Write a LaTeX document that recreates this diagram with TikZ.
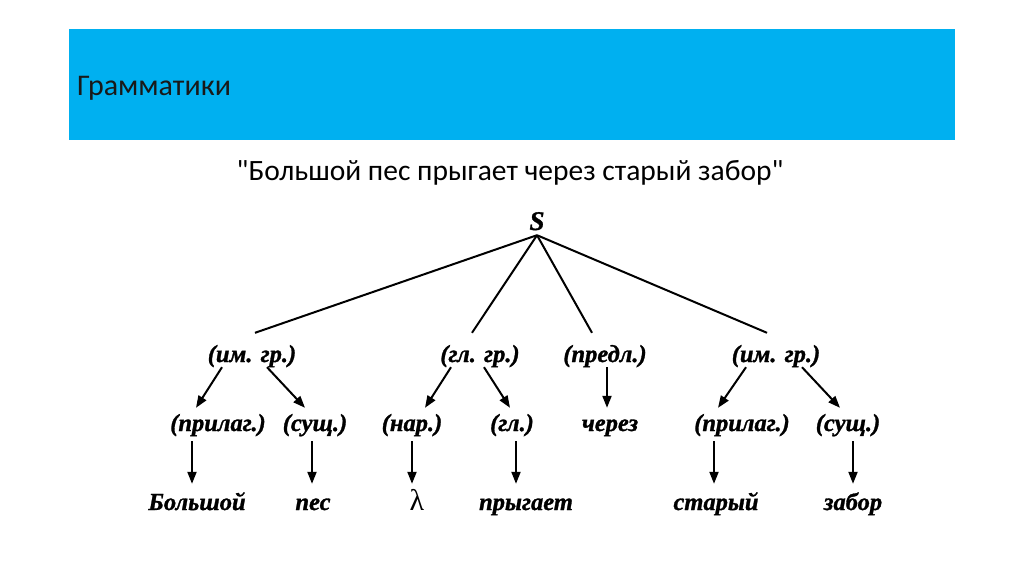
\documentclass[tikz,border=0pt]{standalone}
\usepackage{fontspec}
\usetikzlibrary{arrows.meta,calc}
\newfontfamily\hdrfont{Carlito}
\newfontfamily\treefont[FakeBold=1.2]{Liberation Serif}
\newfontfamily\lamfont{Liberation Serif}
\definecolor{hdrblue}{HTML}{00B0F0}
\begin{document}
\begin{tikzpicture}[x=1pt,y=-1pt,
  tn/.style={font=\treefont\bfseries\itshape\fontsize{24.5}{28}\selectfont, inner sep=0pt, text height=16pt, text depth=5pt, anchor=base},
  ln/.style={line width=2pt},
  ar/.style={line width=2pt, -{Triangle[length=12pt,width=9pt]}}]
\useasboundingbox (0,0) rectangle (1024,574);
\fill[white] (0,0) rectangle (1024,574);
\fill[hdrblue] (69,29) rectangle (955,140);
\node[anchor=base west, inner sep=0pt, font=\hdrfont\fontsize{30}{34}\selectfont, text=black!90] (title) at (77,95) {Грамматики};
\node[anchor=base, inner sep=0pt, font=\hdrfont\fontsize{29.5}{34}\selectfont] (sub) at (510,180) {"Большой пес прыгает через старый забор"};
% tree
\node[tn, font=\treefont\bfseries\itshape\fontsize{27}{30}\selectfont] (S) at (537,230) {S};
\node[tn] (ig1) at (252,362) {(им. гр.)};
\node[tn] (gg) at (480,362) {(гл. гр.)};
\node[tn] (pr) at (605,362) {(предл.)};
\node[tn] (ig2) at (776,362) {(им. гр.)};
\node[tn] (pa1) at (218,431) {(прилаг.)};
\node[tn] (su1) at (315,431) {(сущ.)};
\node[tn] (na) at (412,431) {(нар.)};
\node[tn] (gl) at (512,431) {(гл.)};
\node[tn] (ch) at (610,431) {через};
\node[tn] (pa2) at (742,431) {(прилаг.)};
\node[tn] (su2) at (848,431) {(сущ.)};
\node[tn] (w1) at (197,510) {Большой};
\node[tn] (w2) at (313,510) {пес};
\node[tn, font=\lamfont\fontsize{30}{32}\selectfont] (w3) at (417,510) {λ};
\node[tn] (w4) at (526,510) {прыгает};
\node[tn] (w5) at (716,510) {старый};
\node[tn] (w6) at (853,510) {забор};
% S lines
\draw[ln] (S.south) -- ($(ig1.north)+(3,-13)$);
\draw[ln] (S.south) -- ($(gg.north)+(-8,-13)$);
\draw[ln] (S.south) -- ($(pr.north)+(-13,-13)$);
\draw[ln] (S.south) -- ($(ig2.north)+(-9,-13)$);
% level 1 -> 2
\draw[ar] ($(ig1.south)+(-30,0)$) -- ($(pa1.north)+(-22,-7)$);
\draw[ar] ($(ig1.south)+(15,0)$) -- ($(su1.north)+(-10,-7)$);
\draw[ar] ($(gg.south)+(-29,0)$) -- ($(na.north)+(13,-7)$);
\draw[ar] ($(gg.south)+(4,0)$) -- ($(gl.north)+(-2,-7)$);
\draw[ar] ($(pr.south)+(2,0)$) -- ($(ch.north)+(-3,-7)$);
\draw[ar] ($(ig2.south)+(-30,0)$) -- ($(pa2.north)+(-24,-7)$);
\draw[ar] ($(ig2.south)+(26,0)$) -- ($(su2.north)+(-8,-7)$);
% level 2 -> 3
\draw[ar] ($(pa1.south)+(-26,5)$) -- ($(w1.north)+(-5,-10)$);
\draw[ar] ($(su1.south)+(-3,5)$) -- ($(w2.north)+(-1,-10)$);
\draw[ar] ($(na.south)+(0,5)$) -- ($(w3.north)+(-5,-10)$);
\draw[ar] ($(gl.south)+(4,5)$) -- ($(w4.north)+(-10,-10)$);
\draw[ar] ($(pa2.south)+(-28,5)$) -- ($(w5.north)+(-2,-10)$);
\draw[ar] ($(su2.south)+(5,5)$) -- ($(w6.north)+(0,-10)$);
\end{tikzpicture}
\end{document}
